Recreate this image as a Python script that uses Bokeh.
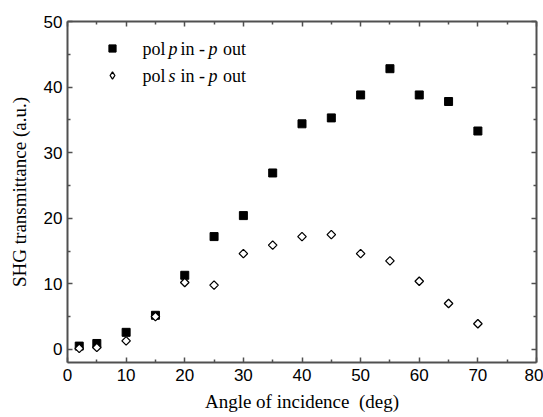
import math
from bokeh.plotting import figure
from bokeh.models import (Range1d, FixedTicker, LinearAxis, Legend, LegendItem,
                          CustomJSTickFormatter, Label)
from bokeh.embed import file_html
from bokeh.resources import INLINE

angle = [2, 5, 10, 15, 20, 25, 30, 35, 40, 45, 50, 55, 60, 65, 70]
pp = [0.5, 0.9, 2.6, 5.2, 11.3, 17.2, 20.4, 26.9, 34.4, 35.3, 38.8, 42.8, 38.8, 37.8, 33.3]
sp = [0.15, 0.3, 1.3, 5.0, 10.2, 9.8, 14.6, 15.9, 17.2, 17.5, 14.6, 13.5, 10.4, 7.0, 3.9]

x_ticks = [0, 10, 20, 30, 40, 50, 60, 70, 80]
x_minor = [5, 15, 25, 35, 45, 55, 65, 75]
y_ticks = [0, 10, 20, 30, 40, 50]
y_minor = [-5, 5, 15, 25, 35, 45]

legend_parts = [["pol", "p", "in -", "p", "out"],
                ["pol", "s", "in -", "p", "out"]]
italic_parts = [False, True, False, True, False]

AXC = "#505050"
SERIF = "Liberation Serif"

p = figure(width=543, height=417, output_backend="svg", toolbar_location=None,
           x_range=Range1d(0, 80), y_range=Range1d(-2, 50),
           min_border_left=67, min_border_right=7, min_border_top=21, min_border_bottom=55,
           x_axis_label="Angle of incidence \u00a0(deg)", y_axis_label="SHG transmittance (a.u.)")
p.grid.visible = False
p.outline_line_color = None
p.background_fill_color = "white"
p.border_fill_color = "white"

def style(ax, labels=True):
    ax.axis_line_color = AXC
    ax.axis_line_width = 2
    ax.major_tick_line_color = AXC
    ax.minor_tick_line_color = AXC
    ax.major_tick_line_width = 1.5
    ax.minor_tick_line_width = 1.5
    ax.major_tick_in = 5
    ax.major_tick_out = 0
    ax.minor_tick_in = 3
    ax.minor_tick_out = 0
    ax.major_label_text_font = "Liberation Sans"
    ax.major_label_text_font_size = "17px"
    ax.major_label_text_color = "black"
    ax.axis_label_text_font = SERIF
    ax.axis_label_text_font_size = "19px"
    ax.axis_label_text_font_style = "normal"
    ax.axis_label_text_color = "black"
    if not labels:
        ax.formatter = CustomJSTickFormatter(code="return ''")

p.xaxis.ticker = FixedTicker(ticks=x_ticks, minor_ticks=x_minor)
p.yaxis.ticker = FixedTicker(ticks=y_ticks, minor_ticks=y_minor)
for ax in p.xaxis + p.yaxis:
    style(ax)
p.xaxis.major_label_standoff = 6
p.xaxis.axis_label_standoff = 7
p.yaxis.major_label_standoff = 5
p.yaxis.axis_label_standoff = 11

top = LinearAxis(ticker=FixedTicker(ticks=x_ticks, minor_ticks=x_minor))
style(top, labels=False)
p.add_layout(top, "above")
right = LinearAxis(ticker=FixedTicker(ticks=y_ticks, minor_ticks=y_minor))
style(right, labels=False)
p.add_layout(right, "right")

r1 = p.scatter(angle, pp, marker="square", size=8, fill_color="black", line_color="black")
r2 = p.scatter(angle, sp, marker="square", angle=math.pi / 4, size=6, fill_color="white",
               line_color="black", line_width=1.3)
# legend-only stand-in for the diamond (a single NaN point, nothing drawn on the plot)
l2 = p.scatter([float("nan")], [float("nan")], marker="diamond", fill_color="white",
               line_color="black", line_width=1.3)

legend = Legend(items=[LegendItem(label=" ", renderers=[r1]),
                       LegendItem(label=" ", renderers=[l2])],
                location=(35, 277), border_line_color=None, background_fill_alpha=0,
                padding=0, margin=0, glyph_width=20, glyph_height=18, label_height=20,
                spacing=7, label_standoff=0, label_text_font_size="1px")
p.add_layout(legend)

# legend texts, with italic polarisation letters
part_x = [75, 101, 113, 141, 155.5]
row_y = [314, 287]
for parts, yy in zip(legend_parts, row_y):
    for part, xx, it in zip(parts, part_x, italic_parts):
        p.add_layout(Label(x=xx, y=yy, x_units="screen", y_units="screen", text=part,
                           text_font=SERIF, text_font_size="18px",
                           text_font_style="italic" if it else "normal",
                           text_baseline="middle", text_align="left", text_color="black"))

open("out.html", "w").write(file_html(p, INLINE))
